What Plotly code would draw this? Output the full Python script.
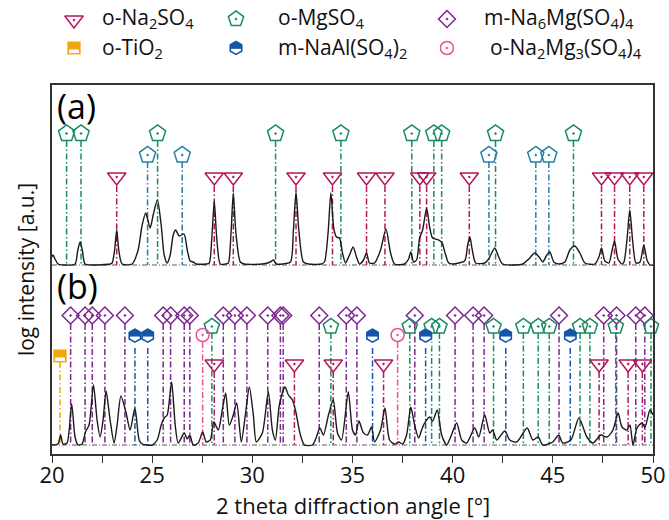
import plotly.graph_objects as go

# ---------------- data ----------------
# pattern (a): 2-theta [deg] and relative log intensity above its baseline
a_theta = [20.0, 20.05, 20.15, 20.3, 20.6, 21.15, 21.28, 21.4, 21.52, 21.65, 22.0, 22.9, 23.0, 23.12, 23.23, 23.34,
           23.5, 24.0, 24.3, 24.5, 24.68, 24.9, 25.05, 25.26, 25.45, 25.6, 25.75, 25.9, 26.05, 26.17, 26.35, 26.59,
           26.75, 26.9, 27.05, 27.2, 27.7, 27.85, 27.98, 28.1, 28.22, 28.4, 28.65, 28.8, 28.93, 29.05, 29.18, 29.4,
           29.6, 30.5, 30.9, 31.05, 31.2, 31.5, 31.9, 32.05, 32.18, 32.32, 32.55, 32.8, 33.45, 33.6, 33.78, 33.92,
           34.07, 34.2, 34.35, 34.5, 34.65, 34.85, 35.03, 35.2, 35.35, 35.55, 35.7, 35.85, 36.1, 36.4, 36.67, 36.9,
           37.1, 37.6, 37.8, 37.91, 38.05, 38.2, 38.35, 38.5, 38.7, 38.85, 39.0, 39.3, 39.45, 39.65, 39.8, 40.0,
           40.3, 40.6, 40.75, 40.86, 40.98, 41.15, 41.6, 41.8, 42.1, 42.3, 42.5, 43.5, 43.8, 44.1, 44.35, 44.5,
           44.7, 44.85, 45.05, 45.3, 45.6, 45.85, 46.1, 46.35, 46.6, 47.1, 47.3, 47.43, 47.6, 47.8, 47.95, 48.08,
           48.25, 48.45, 48.55, 48.7, 48.84, 48.98, 49.15, 49.35, 49.54, 49.7, 49.85, 50.0]
a_int = [8, 10, 6, 1, 0, 1, 14, 23, 14, 1, 0, 1, 2, 14, 35, 14,
         1, 1, 15, 40, 52, 37, 50, 65, 40, 10, 2, 10, 30, 35, 29, 31,
         15, 4, 3, 1, 1, 2, 28, 64, 28, 1, 1, 2, 30, 72, 32, 3,
         1, 1, 3, 5, 1, 1, 3, 35, 73, 35, 3, 1, 1, 3, 32, 72,
         36, 28, 27, 12, 2, 10, 18, 8, 1, 5, 12, 2, 2, 15, 36, 12,
         1, 1, 6, 13, 3, 5, 27, 35, 57, 38, 27, 25, 23, 10, 2, 1,
         2, 4, 20, 28, 15, 2, 2, 6, 17, 8, 1, 1, 6, 12, 7, 3,
         10, 13, 3, 1, 3, 15, 19, 12, 2, 1, 8, 17, 4, 2, 14, 24,
         6, 1, 3, 25, 55, 25, 2, 3, 20, 5, 0, 0]

# pattern (b)
b_theta = [20.0, 20.3, 20.43, 20.55, 20.75, 20.98, 21.15, 21.3, 21.5, 21.67, 21.85, 22.07, 22.25, 22.4, 22.55,
           22.7, 22.9, 23.1, 23.25, 23.44, 23.7, 23.9, 24.14, 24.35, 24.5, 25.0, 25.25, 25.45, 25.6, 25.75, 25.97,
           26.15, 26.3, 26.6, 26.75, 26.88, 27.05, 27.3, 27.52, 27.7, 27.9, 28.08, 28.3, 28.5, 28.67, 28.85, 29.05,
           29.22, 29.45, 29.65, 29.85, 30.05, 30.2, 30.5, 30.8, 31.0, 31.15, 31.35, 31.63, 31.8, 32.0, 32.15, 32.4,
           32.6, 33.0, 33.2, 33.37, 33.55, 33.8, 34.04, 34.25, 34.45, 34.79, 35.0, 35.15, 35.32, 35.55, 35.75, 35.95,
           36.1, 36.4, 36.62, 36.85, 37.1, 37.3, 37.5, 37.7, 37.91, 38.1, 38.3, 38.45, 38.6, 38.85, 39.0, 39.23,
           39.45, 39.7, 39.9, 40.2, 40.45, 40.7, 41.1, 41.3, 41.6, 41.85, 42.0, 42.2, 42.6, 42.85, 43.2, 43.72,
           44.0, 44.27, 44.5, 45.0, 45.29, 45.5, 45.9, 46.3, 46.7, 47.0, 47.4, 47.7, 48.0, 48.26, 48.45, 48.7,
           48.85, 49.0, 49.2, 49.45, 49.6, 49.85, 50.0]
b_int = [0, 1, 10, 1, 2, 41, 8, 0, 1, 13, 20, 60, 25, 8, 25,
         54, 25, 2, 20, 49, 32, 15, 37, 5, 1, 0, 5, 20, 27, 30, 63,
         20, 2, 12, 6, 10, 0, 2, 13, 3, 5, 23, 15, 35, 52, 20, 30,
         42, 3, 30, 58, 30, 3, 12, 53, 15, 5, 40, 58, 50, 45, 35, 10,
         0, 0, 8, 17, 10, 30, 45, 12, 5, 53, 15, 10, 24, 12, 10, 18,
         3, 15, 37, 5, 1, 3, 1, 10, 38, 20, 7, 15, 22, 28, 24, 35,
         10, 0, 8, 22, 5, 2, 17, 8, 30, 12, 15, 5, 14, 5, 3, 17,
         5, 8, 0, 3, 10, 2, 5, 27, 8, 2, 10, 8, 15, 32, 18, 15,
         20, 0, 17, 22, 18, 35, 30]

# reference reflections, pattern (a)
a_na2so4 = [23.23, 28.1, 29.05, 32.18, 34.0, 35.7, 36.62, 38.36, 38.7, 40.83, 47.43, 48.08, 48.84, 49.54]
a_mgso4 = [20.73, 21.45, 25.27, 31.16, 34.42, 37.96, 39.06, 39.45, 42.14, 46.03]
a_mgso4_2 = [24.77, 26.5, 41.81, 44.15, 44.8]

# reference reflections, pattern (b)
b_na6mg = [20.93, 21.65, 22.01, 22.64, 23.64, 25.55, 25.92, 26.6, 26.88, 28.55, 29.13, 29.73, 30.77, 31.4,
           31.54, 33.34, 34.69, 35.22, 38.11, 40.12, 41.02, 41.57, 45.31, 47.54, 48.18, 49.14, 49.59]
b_mgso4 = [27.98, 33.92, 37.86, 38.95, 39.34, 42.04, 43.53, 44.27, 44.82, 46.36, 46.85, 48.14, 49.9]
b_naal = [24.14, 24.78, 36.0, 38.65, 42.65, 45.87]
b_na2mg3 = [27.52, 37.25]
b_tio2 = [20.4]
b_na2so4 = [28.1, 32.1, 34.04, 36.55, 47.31, 48.76, 49.47]

x_ticks = [20, 25, 30, 35, 40, 45, 50]
legend_labels = ["o-Na<sub>2</sub>SO<sub>4</sub>", "o-MgSO<sub>4</sub>", "m-Na<sub>6</sub>Mg(SO<sub>4</sub>)<sub>4</sub>",
                 "o-TiO<sub>2</sub>", "m-NaAl(SO<sub>4</sub>)<sub>2</sub>", "o-Na<sub>2</sub>Mg<sub>3</sub>(SO<sub>4</sub>)<sub>4</sub>"]

# ---------------- styling ----------------
C_NA2SO4 = "#b3165c"
C_MGSO4 = "#178a60"
C_MGSO4_2 = "#247fa4"
C_NA6MG = "#7c2590"
C_NAAL = "#1456a8"
C_TIO2 = "#f2a60c"
C_NA2MG3 = "#ee4e9c"
FONT = "Open Sans, Noto Sans, DejaVu Sans, sans-serif"

A_BASE = 189   # vertical offset of pattern (a)
B_BASE = 9     # vertical offset of pattern (b)
Y_TOP = 369
PLOT_H = 454
DASH = "6px,2.5px,1.5px,2.5px"

fig = go.Figure()

def baseline(y0):
    fig.add_trace(go.Scatter(x=[20, 50], y=[y0, y0], mode="lines",
                             line=dict(color="#444", width=0.9, dash="5px,2px,1px,2px"),
                             hoverinfo="skip", showlegend=False))

def drop_lines(xs, y_top, y_base, color):
    lx, ly = [], []
    for t in xs:
        lx += [t, t, None]
        ly += [y_top, y_base, None]
    fig.add_trace(go.Scatter(x=lx, y=ly, mode="lines", line=dict(color=color, width=1.5, dash=DASH),
                             hoverinfo="skip", showlegend=False))

def markers(xs, level, symbol, size, color, fill=None, lw=1.5, xa="x", ya="y"):
    fig.add_trace(go.Scatter(x=xs, y=[level] * len(xs), mode="markers", cliponaxis=False,
                             marker=dict(symbol=symbol, size=size, color=fill if fill else color,
                                         line=dict(color=color, width=lw)),
                             hoverinfo="skip", showlegend=False, xaxis=xa, yaxis=ya))

def half_hex(xs, level, size, color, down=-1, xa="x", ya="y"):
    # top half filled, bottom half white
    markers(xs, level, "hexagon", size, color, fill=color, lw=1.2, xa=xa, ya=ya)
    fig.add_trace(go.Scatter(x=xs, y=[level + down * 6.6] * len(xs), mode="markers", cliponaxis=False,
                             marker=dict(symbol="square", size=size - 1.5, color="white", line=dict(width=0)),
                             hoverinfo="skip", showlegend=False, xaxis=xa, yaxis=ya))
    markers(xs, level, "hexagon-open", size, color, lw=1.5, xa=xa, ya=ya)

def half_square(xs, level, size, color, down=-1, xa="x", ya="y"):
    markers(xs, level, "square", size, color, fill=color, lw=1.2, xa=xa, ya=ya)
    fig.add_trace(go.Scatter(x=xs, y=[level + down * 3.3] * len(xs), mode="markers", cliponaxis=False,
                             marker=dict(symbol="line-ew", size=size * 0.58, color="white",
                                         line=dict(color="white", width=3.6)),
                             hoverinfo="skip", showlegend=False, xaxis=xa, yaxis=ya))

baseline(A_BASE)
baseline(B_BASE)

# pattern (a) reflections
drop_lines(a_mgso4, 313, A_BASE, C_MGSO4)
drop_lines(a_mgso4_2, 292, A_BASE, C_MGSO4_2)
drop_lines(a_na2so4, 268, A_BASE, C_NA2SO4)
# pattern (b) reflections
drop_lines(b_na6mg, 130, B_BASE, C_NA6MG)
drop_lines(b_mgso4, 121, B_BASE, C_MGSO4)
drop_lines(b_naal, 106, B_BASE, C_NAAL)
drop_lines(b_na2mg3, 112, B_BASE, C_NA2MG3)
drop_lines(b_tio2, 92, B_BASE, C_TIO2)
drop_lines(b_na2so4, 82, B_BASE, C_NA2SO4)

# curves
fig.add_trace(go.Scatter(x=a_theta, y=[A_BASE + v for v in a_int], mode="lines",
                         line=dict(color="#1a1a1a", width=1.4, shape="spline", smoothing=0.7),
                         hoverinfo="skip", showlegend=False))
fig.add_trace(go.Scatter(x=b_theta, y=[B_BASE + v for v in b_int], mode="lines",
                         line=dict(color="#1a1a1a", width=1.4, shape="spline", smoothing=0.7),
                         hoverinfo="skip", showlegend=False))

# markers
markers(a_mgso4, 320.5, "pentagon-open-dot", 17, C_MGSO4)
markers(a_mgso4_2, 299, "pentagon-open-dot", 17, C_MGSO4_2)
markers(a_na2so4, 277, "triangle-down-open-dot", 16, C_NA2SO4)
markers(b_na6mg, 138.5, "diamond-open-dot", 13, C_NA6MG)
markers(b_mgso4, 127.5, "pentagon-open-dot", 16, C_MGSO4)
half_hex(b_naal, 118.3, 13, C_NAAL)
markers(b_na2mg3, 119, "circle-open-dot", 13, C_NA2MG3)
half_square(b_tio2, 98, 12, C_TIO2)
markers(b_na2so4, 90, "triangle-down-open-dot", 16, C_NA2SO4)

# legend (pixel-like overlay axes)
markers([74], 20, "triangle-down-open-dot", 16, C_NA2SO4, xa="x2", ya="y2")
markers([236], 19, "pentagon-open-dot", 16, C_MGSO4, xa="x2", ya="y2")
markers([447], 19, "diamond-open-dot", 13, C_NA6MG, xa="x2", ya="y2")
half_square([74], 48, 12, C_TIO2, down=1, xa="x2", ya="y2")
half_hex([236], 48, 13, C_NAAL, down=1, xa="x2", ya="y2")
markers([447], 48, "circle-open-dot", 13, C_NA2MG3, xa="x2", ya="y2")

leg_pos = [(100, 18), (276, 18), (482, 18), (100, 48), (276, 48), (488, 48)]
annots = []
for (lx, ly), txt in zip(leg_pos, legend_labels):
    annots.append(dict(x=lx, y=ly, xref="x2", yref="y2", text=txt, showarrow=False, xanchor="left",
                       yanchor="middle", font=dict(family=FONT, size=21, color="#111")))
annots.append(dict(x=20.15, y=348, xref="x", yref="y", text="(a)", showarrow=False, xanchor="left",
                   yanchor="middle", font=dict(family=FONT, size=34, color="#000")))
annots.append(dict(x=20.15, y=168, xref="x", yref="y", text="(b)", showarrow=False, xanchor="left",
                   yanchor="middle", font=dict(family=FONT, size=34, color="#000")))
# x-axis title (centre about 51 px below the axis line)
annots.append(dict(x=0.5, y=-51 / PLOT_H, xref="paper", yref="paper", text="2 theta diffraction angle [°]",
                   showarrow=False, xanchor="center", yanchor="middle",
                   font=dict(family=FONT, size=22, color="#111")))

fig.update_layout(
    width=669, height=520,
    margin=dict(l=52, r=16, t=0, b=66),
    paper_bgcolor="white", plot_bgcolor="rgba(0,0,0,0)",
    font=dict(family=FONT, size=21, color="#111"),
    showlegend=False,
    annotations=annots,
    xaxis=dict(range=[20, 50], tickmode="array", tickvals=x_ticks, ticktext=[str(t) for t in x_ticks],
               ticks="outside", ticklen=7, tickwidth=1.2, tickcolor="#333", ticklabelstandoff=-6,
               minor=dict(dtick=2.5, tick0=20, ticks="outside", ticklen=7, tickwidth=1.2, tickcolor="#333"),
               showline=True, linecolor="#333", linewidth=1.5, mirror=True, showgrid=False, zeroline=False,
               tickfont=dict(size=22), anchor="y"),
    yaxis=dict(range=[0, Y_TOP], domain=[0, Y_TOP / PLOT_H], showticklabels=False, ticks="",
               showline=True, linecolor="#333", linewidth=1.5, mirror=True, showgrid=False, zeroline=False,
               title=dict(text="log intensity [a.u.]", font=dict(size=21), standoff=10), anchor="x"),
    xaxis2=dict(domain=[0, 1], range=[52, 653], visible=False, anchor="y2"),
    yaxis2=dict(domain=[0, 1], range=[PLOT_H, 0], visible=False, anchor="x2"),
)

fig.write_html("out.html")
